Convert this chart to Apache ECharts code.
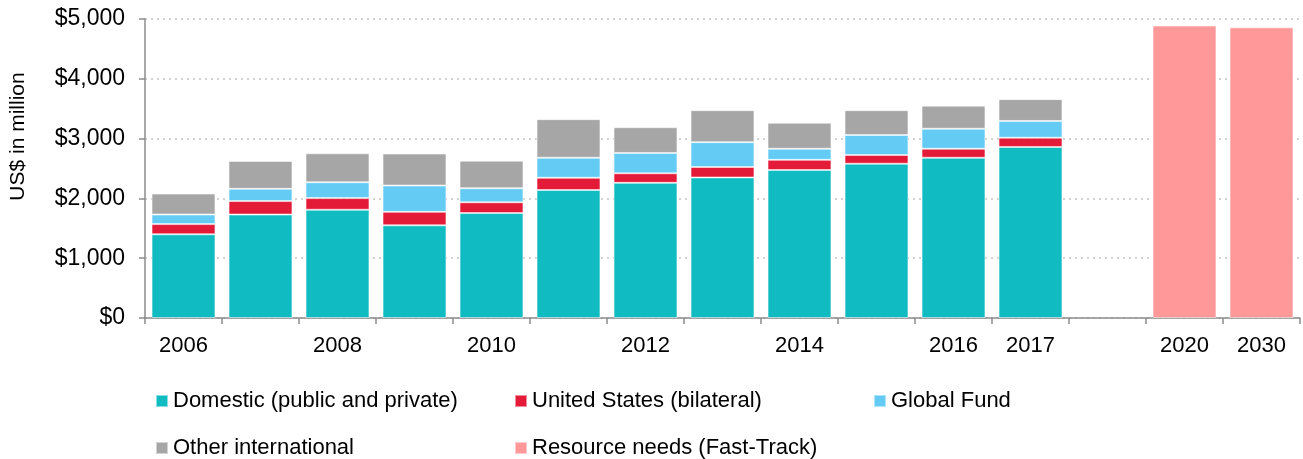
<!DOCTYPE html>
<html>
<head>
<meta charset="utf-8">
<script src="https://cdn.jsdelivr.net/npm/echarts@6/dist/echarts.min.js"></script>
<style>
  html, body { margin: 0; padding: 0; background: #fff; }
  #main { width: 1303px; height: 459px; }
</style>
</head>
<body>
<div id="main"></div>
<script>
// years on the axis, one empty slot between 2017 and 2020
const years = ['2006', '2007', '2008', '2009', '2010', '2011', '2012', '2013', '2014', '2015', '2016', '2017', '', '2020', '2030'];
const xTickLabels = ['2006', '', '2008', '', '2010', '', '2012', '', '2014', '', '2016', '2017', '', '2020', '2030'];
const yTicks = [0, 1000, 2000, 3000, 4000, 5000];

const domestic = [1400, 1730, 1810, 1550, 1755, 2140, 2260, 2350, 2475, 2580, 2680, 2860, '-', '-', '-'];
const unitedStates = [170, 225, 195, 225, 180, 205, 160, 175, 170, 145, 150, 155, '-', '-', '-'];
const globalFund = [160, 205, 265, 440, 235, 335, 340, 415, 185, 335, 335, 280, '-', '-', '-'];
const otherIntl = [350, 465, 485, 535, 460, 645, 430, 535, 435, 415, 385, 365, '-', '-', '-'];
const resourceNeeds = ['-', '-', '-', '-', '-', '-', '-', '-', '-', '-', '-', '-', '-', 4890, 4860];

const FONT = 'Liberation Sans, Arial, sans-serif';

function bar(name, data, color) {
  return {
    name: name,
    type: 'bar',
    stack: 'total',
    barCategoryGap: '17%',
    data: data,
    itemStyle: { color: color, borderColor: 'rgba(255,255,255,0.5)', borderWidth: 1 }
  };
}

const legendText = { fontFamily: FONT, fontSize: 22, color: '#000' };
function legend(left, names) {
  return {
    orient: 'vertical', left: left, top: 390, padding: 0,
    itemWidth: 12, itemHeight: 12, itemGap: 25, icon: 'rect',
    textStyle: legendText, data: names, selectedMode: false
  };
}

const option = {
  animation: false,
  grid: { left: 145, right: 3, top: 19, bottom: 141 },
  legend: [
    legend(155, ['Domestic (public and private)', 'Other international']),
    legend(514, ['United States (bilateral)', 'Resource needs (Fast-Track)']),
    legend(873, ['Global Fund'])
  ],
  xAxis: {
    type: 'category',
    data: years,
    axisLine: { lineStyle: { color: '#8c8c8c', width: 1.5 } },
    axisTick: { show: true, length: 6, lineStyle: { color: '#8c8c8c', width: 1.5 } },
    axisLabel: {
      interval: 0, margin: 17, color: '#000', fontFamily: FONT, fontSize: 22,
      formatter: (v, i) => xTickLabels[i]
    }
  },
  yAxis: {
    type: 'value',
    min: yTicks[0], max: yTicks[yTicks.length - 1], interval: 1000,
    name: 'US$ in million',
    nameLocation: 'middle',
    nameGap: 116,
    nameTextStyle: { fontFamily: FONT, fontSize: 21, color: '#000', padding: [0, 0, 0, 64] },
    axisLine: { show: true, lineStyle: { color: '#8c8c8c', width: 1.5 } },
    axisTick: { show: true, length: 6, lineStyle: { color: '#8c8c8c', width: 1.5 } },
    axisLabel: {
      margin: 20, color: '#000', fontFamily: FONT, fontSize: 23,
      formatter: v => '$' + v.toLocaleString('en-US')
    },
    splitLine: { lineStyle: { color: '#d2d2d2', width: 2, type: [2, 4] } }
  },
  series: [
    bar('Domestic (public and private)', domestic, '#10BCC2'),
    bar('United States (bilateral)', unitedStates, '#E31A38'),
    bar('Global Fund', globalFund, '#63CBF4'),
    bar('Other international', otherIntl, '#A6A6A6'),
    bar('Resource needs (Fast-Track)', resourceNeeds, '#FF9999')
  ]
};

const myChart = echarts.init(document.getElementById('main'));
myChart.setOption(option);
</script>
</body>
</html>
